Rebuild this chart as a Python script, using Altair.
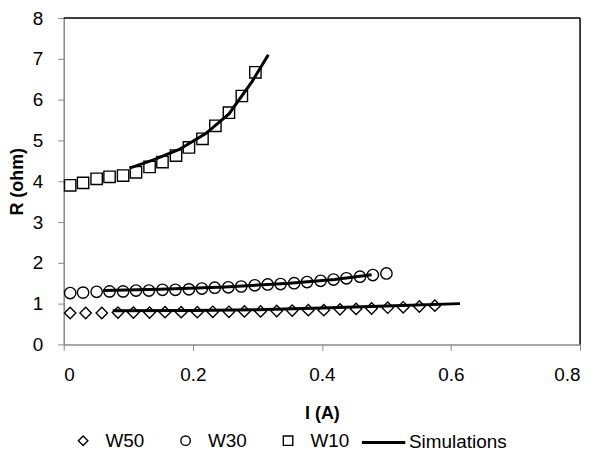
import altair as alt
import pandas as pd

# Measured data
w10_x = [0.010, 0.030, 0.051, 0.071, 0.092, 0.112, 0.133, 0.153, 0.174, 0.194, 0.215, 0.235, 0.256, 0.276, 0.297]
w10_y = [3.90, 3.96, 4.06, 4.11, 4.14, 4.22, 4.35, 4.47, 4.63, 4.83, 5.04, 5.36, 5.68, 6.09, 6.67]

w30_x = [0.010, 0.030, 0.051, 0.071, 0.092, 0.112, 0.132, 0.153, 0.173, 0.194, 0.214, 0.234, 0.255, 0.275, 0.296,
         0.316, 0.336, 0.357, 0.377, 0.398, 0.418, 0.438, 0.459, 0.479, 0.500]
w30_y = [1.26, 1.27, 1.29, 1.30, 1.30, 1.32, 1.32, 1.34, 1.34, 1.35, 1.37, 1.39, 1.40, 1.42, 1.45,
         1.47, 1.48, 1.50, 1.53, 1.56, 1.59, 1.62, 1.66, 1.70, 1.74]

w50_x = [0.010, 0.034, 0.059, 0.084, 0.108, 0.133, 0.157, 0.182, 0.207, 0.231, 0.256, 0.280,
         0.305, 0.330, 0.354, 0.379, 0.403, 0.428, 0.453, 0.477, 0.502, 0.526, 0.551, 0.575]
w50_y = [0.77, 0.77, 0.77, 0.78, 0.78, 0.78, 0.79, 0.79, 0.79, 0.80, 0.80, 0.81,
         0.81, 0.82, 0.83, 0.84, 0.84, 0.86, 0.87, 0.88, 0.90, 0.91, 0.93, 0.95]

sim10_x = [0.102, 0.138, 0.179, 0.220, 0.256, 0.292, 0.317]
sim10_y = [4.32, 4.52, 4.78, 5.17, 5.65, 6.45, 7.10]
sim30_x = [0.061, 0.15, 0.25, 0.35, 0.42, 0.477]
sim30_y = [1.32, 1.35, 1.41, 1.50, 1.59, 1.71]
sim50_x = [0.076, 0.2, 0.3, 0.4, 0.5, 0.614]
sim50_y = [0.825, 0.83, 0.85, 0.89, 0.94, 1.00]

series = ["W50", "W30", "W10"]
shapes = ["diamond", "circle", "square"]

pts = pd.concat([
    pd.DataFrame({"I": w50_x, "R": w50_y, "s": "W50"}),
    pd.DataFrame({"I": w30_x, "R": w30_y, "s": "W30"}),
    pd.DataFrame({"I": w10_x, "R": w10_y, "s": "W10"}),
])
sims = pd.concat([
    pd.DataFrame({"I": sim50_x, "R": sim50_y, "c": "W50", "m": "Simulations"}),
    pd.DataFrame({"I": sim30_x, "R": sim30_y, "c": "W30", "m": "Simulations"}),
    pd.DataFrame({"I": sim10_x, "R": sim10_y, "c": "W10", "m": "Simulations"}),
])

FONT = "Liberation Sans"
W, H = 519, 328

xs = alt.X("I:Q", scale=alt.Scale(domain=[0, 0.8], nice=False),
           axis=alt.Axis(values=[0, 0.2, 0.4, 0.6, 0.8], format="~g", title="I (A)", grid=False,
                         domainColor="#888888", tickColor="#888888", tickSize=6, domainWidth=1.5,
                         labelFontSize=19, labelFont=FONT, labelColor="black", labelPadding=15,
                         titleFontSize=18, titleFont=FONT, titleFontWeight="bold", titleColor="black",
                         titlePadding=20))
ys = alt.Y("R:Q", scale=alt.Scale(domain=[0, 8], nice=False),
           axis=alt.Axis(values=list(range(0, 9)), title="R (ohm)", grid=False,
                         domainColor="#888888", tickColor="#888888", tickSize=6, domainWidth=1.5,
                         labelFontSize=19, labelFont=FONT, labelColor="black", labelPadding=15,
                         titleFontSize=18, titleFont=FONT, titleFontWeight="bold", titleColor="black",
                         titlePadding=6))

points = alt.Chart(pts).mark_point(filled=False, color="black", strokeWidth=1.4, opacity=1).encode(
    x=xs, y=ys,
    shape=alt.Shape("s:N", scale=alt.Scale(domain=series, range=shapes),
                    legend=alt.Legend(title=None, orient="none", direction="horizontal",
                                      legendX=10, legendY=415, labelFontSize=19, labelFont=FONT,
                                      labelColor="black", symbolSize=90, symbolStrokeWidth=1.4,
                                      symbolStrokeColor="black", symbolFillColor="white",
                                      labelOffset=13, columnPadding=31, padding=0)),
    size=alt.value(130),
)

lines = alt.Chart(sims).mark_line(color="black", strokeWidth=3).encode(
    x="I:Q", y="R:Q", detail="c:N",
    stroke=alt.Stroke("m:N", scale=alt.Scale(domain=["Simulations"], range=["black"]),
                      legend=alt.Legend(title=None, orient="none", legendX=298, legendY=403,
                                        labelFontSize=19, labelFont=FONT, labelColor="black",
                                        symbolType="stroke", symbolSize=1900, symbolStrokeWidth=3,
                                        labelOffset=2, padding=0)),
)

frame = alt.Chart(pd.DataFrame({"a": [0]})).mark_rule(color="black", strokeWidth=1.5).encode(
    x=alt.value(0), x2=alt.value(W), y=alt.value(0))
frame_r = alt.Chart(pd.DataFrame({"a": [0]})).mark_rule(color="black", strokeWidth=1.5).encode(
    x=alt.value(W), y=alt.value(0), y2=alt.value(H))

chart = alt.layer(lines, points, frame, frame_r).properties(
    width=W, height=H,
    autosize=alt.AutoSizeParams(type="none"),
    padding={"left": 56, "top": 9, "right": 12, "bottom": 110},
).configure_view(stroke=None).resolve_legend(shape="independent", stroke="independent")

chart.save("out.html", embed_options={"renderer": "svg", "actions": False})
